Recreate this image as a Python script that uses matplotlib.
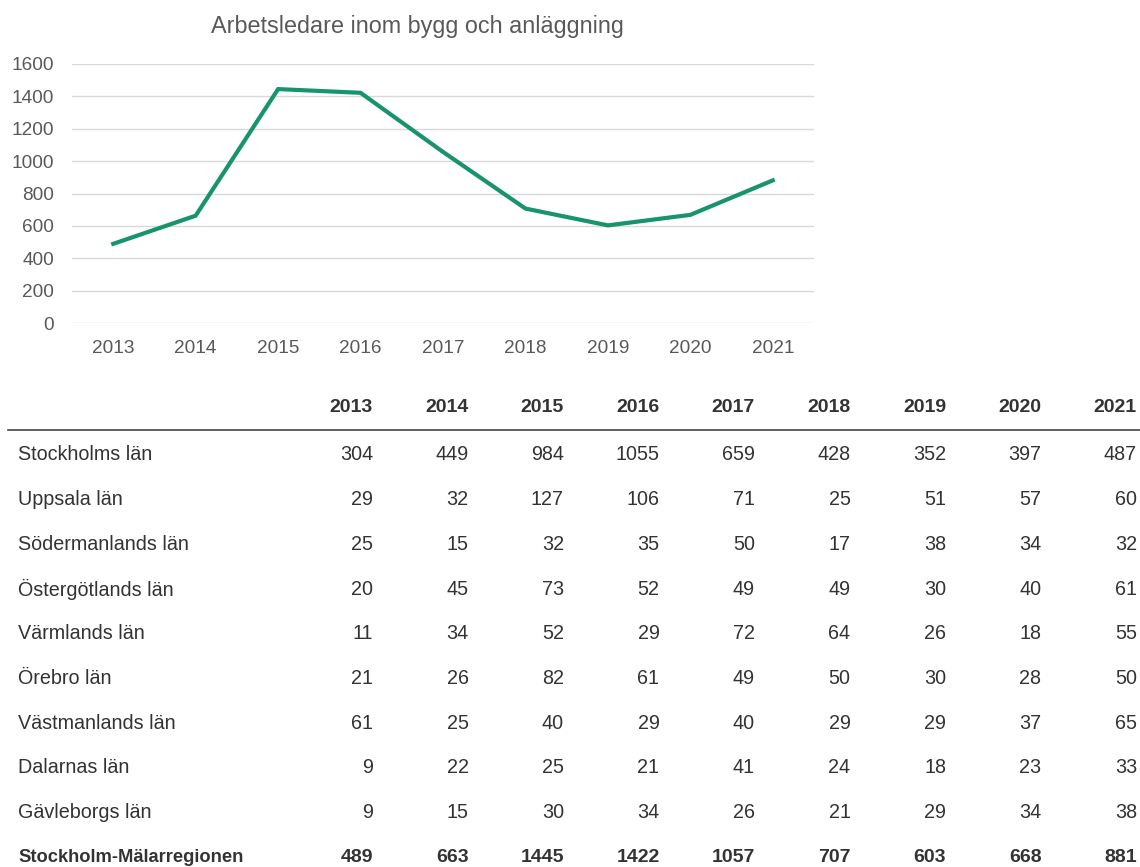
import matplotlib
matplotlib.use("Agg")
import matplotlib.pyplot as plt
from matplotlib.lines import Line2D

plt.rcParams['font.family'] = ['Liberation Sans', 'DejaVu Sans']

years = ['2013', '2014', '2015', '2016', '2017', '2018', '2019', '2020', '2021']
total = [489, 663, 1445, 1422, 1057, 707, 603, 668, 881]
chart_title = 'Arbetsledare inom bygg och anläggning'
yticks = [0, 200, 400, 600, 800, 1000, 1200, 1400, 1600]

regions = ['Stockholms län', 'Uppsala län', 'Södermanlands län', 'Östergötlands län',
           'Värmlands län', 'Örebro län', 'Västmanlands län', 'Dalarnas län',
           'Gävleborgs län']
stockholm = [304, 449, 984, 1055, 659, 428, 352, 397, 487]
uppsala = [29, 32, 127, 106, 71, 25, 51, 57, 60]
sodermanland = [25, 15, 32, 35, 50, 17, 38, 34, 32]
ostergotland = [20, 45, 73, 52, 49, 49, 30, 40, 61]
varmland = [11, 34, 52, 29, 72, 64, 26, 18, 55]
orebro = [21, 26, 82, 61, 49, 50, 30, 28, 50]
vastmanland = [61, 25, 40, 29, 40, 29, 29, 37, 65]
dalarna = [9, 22, 25, 21, 41, 24, 18, 23, 33]
gavleborg = [9, 15, 30, 34, 26, 21, 29, 34, 38]
total_label = 'Stockholm-Mälarregionen'
table_rows = [stockholm, uppsala, sodermanland, ostergotland, varmland,
              orebro, vastmanland, dalarna, gavleborg]

W, H = 1140, 867
fig = plt.figure(figsize=(W / 100, H / 100), dpi=100)
fig.patch.set_facecolor('white')

# ---- line chart ----
ax = fig.add_axes([72 / W, 1 - 323 / H, (814 - 72) / W, (323 - 64) / H])
x = list(range(len(years)))
ax.plot(x, total, color='#17946e', lw=3.0, solid_joinstyle='miter', zorder=3)
ax.set_xlim(-0.5, len(years) - 0.5)
ax.set_ylim(0, 1600)
ax.set_yticks(yticks)
ax.set_yticklabels([str(v) for v in yticks])
ax.set_xticks(x)
ax.set_xticklabels(years)
ax.grid(axis='y', color='#d9d9d9', lw=1)
ax.set_axisbelow(True)
for s in ax.spines.values():
    s.set_visible(False)
ax.tick_params(axis='y', length=0, pad=13, labelsize=13.7, labelcolor='#595959')
ax.tick_params(axis='x', length=0, pad=12, labelsize=13.7, labelcolor='#595959')
fig.text(417 / W, 1 - 26 / H, chart_title, ha='center', va='center',
         fontsize=16.8, color='#595959')

# ---- table ----
col_right = [373 + 95.5 * j for j in range(len(years))]
header_y = 408
row_y0 = 455
row_dy = 44.7
txt = '#333333'
for j, yr in enumerate(years):
    fig.text(col_right[j] / W, 1 - header_y / H, yr, ha='right', va='center',
             fontsize=14, fontweight='bold', color=txt)
fig.add_artist(Line2D([8 / W, 1.0], [1 - 430 / H, 1 - 430 / H],
                      color='#444444', lw=1.2, transform=fig.transFigure))
for i, (name, vals) in enumerate(zip(regions, table_rows)):
    yy = 1 - (row_y0 + row_dy * i) / H
    fig.text(18 / W, yy, name, ha='left', va='center', fontsize=14.2, color=txt)
    for j, v in enumerate(vals):
        fig.text(col_right[j] / W, yy, str(v), ha='right', va='center',
                 fontsize=14.2, color=txt)
yy = 1 - (row_y0 + row_dy * len(regions)) / H
fig.text(18 / W, yy, total_label, ha='left', va='center', fontsize=13.2,
         fontweight='bold', color=txt)
for j, v in enumerate(total):
    fig.text(col_right[j] / W, yy, str(v), ha='right', va='center',
             fontsize=14, fontweight='bold', color=txt)

fig.savefig('out.png', dpi=100, facecolor='white')
